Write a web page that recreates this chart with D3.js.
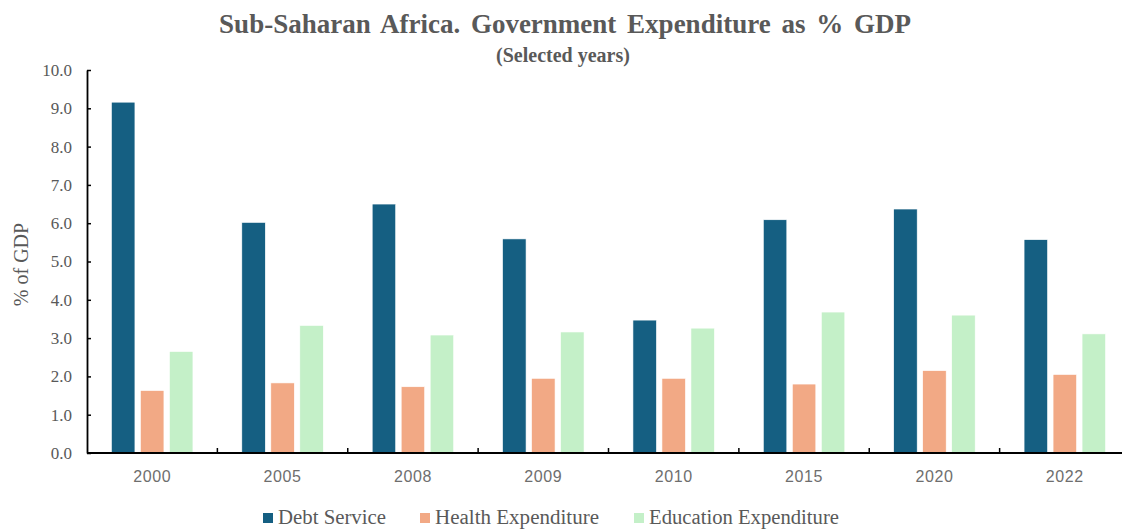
<!DOCTYPE html>
<html>
<head>
<meta charset="utf-8">
<script src="https://cdn.jsdelivr.net/npm/d3@7"></script>
<style>
  body { margin: 0; background: #fff; overflow: hidden; }
  svg text { fill: #595959; }
</style>
</head>
<body>
<div id="chart"></div>
<script>
const years = ["2000", "2005", "2008", "2009", "2010", "2015", "2020", "2022"];
const seriesNames = ["Debt Service", "Health Expenditure", "Education Expenditure"];
const debtService = [9.16, 6.02, 6.50, 5.59, 3.47, 6.09, 6.37, 5.57];
const healthExp = [1.63, 1.83, 1.73, 1.95, 1.95, 1.80, 2.15, 2.05];
const educationExp = [2.65, 3.33, 3.08, 3.16, 3.26, 3.68, 3.60, 3.11];
const yTicks = [0, 1, 2, 3, 4, 5, 6, 7, 8, 9, 10];
const colors = ["#155f82", "#f2a985", "#c4f0c8"];

const SERIF = "'Liberation Serif', 'Times New Roman', Tinos, 'DejaVu Serif', serif";
const SANS = "'Liberation Sans', Arial, Arimo, sans-serif";

const width = 1122, height = 529;
const margin = {top: 70, right: 10, bottom: 76, left: 87};
const plotRight = 1130; // plot area runs slightly past the picture's right edge

const svg = d3.select("#chart").append("svg")
    .attr("width", width)
    .attr("height", height);

const values = [debtService, healthExp, educationExp];
const rows = years.map((y, i) => ({
    year: y,
    vals: seriesNames.map((s, k) => ({key: s, k, value: values[k][i]}))
}));

const x0 = d3.scaleBand()
    .domain(years)
    .range([margin.left, plotRight])
    .paddingInner(0.375)
    .paddingOuter(0.1875);

const x1 = d3.scaleBand()
    .domain(seriesNames)
    .range([0, x0.bandwidth()])
    .paddingInner(0.19);

const y = d3.scaleLinear()
    .domain([0, 10])
    .range([height - margin.bottom, margin.top]);

// title
svg.append("text")
    .attr("x", 565).attr("y", 33)
    .attr("text-anchor", "middle")
    .attr("font-family", SERIF)
    .style("font-weight", "bold")
    .style("font-size", "27px")
    .style("word-spacing", "4px")
    .text("Sub-Saharan Africa. Government Expenditure as % GDP");
svg.append("text")
    .attr("x", 563).attr("y", 62)
    .attr("text-anchor", "middle")
    .attr("font-family", SERIF)
    .style("font-weight", "bold")
    .style("font-size", "20px")
    .text("(Selected years)");

// bars
const group = svg.append("g").selectAll("g")
    .data(rows)
    .join("g")
    .attr("transform", d => `translate(${x0(d.year)},0)`);

group.selectAll("rect")
    .data(d => d.vals)
    .join("rect")
    .attr("x", d => x1(d.key))
    .attr("width", x1.bandwidth())
    .attr("y", d => y(d.value))
    .attr("height", d => y(0) - y(d.value))
    .attr("fill", d => colors[d.k])
    .attr("stroke", "#fff")
    .attr("stroke-width", 0.6);

// y axis
const yAxis = svg.append("g")
    .attr("transform", `translate(${margin.left},0)`)
    .call(d3.axisLeft(y).tickValues(yTicks).tickFormat(d3.format(".1f")).tickSizeInner(-4).tickSizeOuter(0).tickPadding(15));
yAxis.attr("font-family", SERIF).attr("font-size", 17);
yAxis.select(".domain").attr("stroke", "#000").attr("stroke-width", 1.8);
yAxis.selectAll(".tick line").attr("stroke", "#000").attr("stroke-width", 1.5);
yAxis.selectAll(".tick text").attr("fill", "#595959");

// x axis
const step = x0.step();
const boundaries = d3.range(1, years.length + 1).map(i => margin.left + i * step);
const xg = svg.append("g");
xg.append("line")
    .attr("x1", margin.left).attr("x2", plotRight)
    .attr("y1", y(0)).attr("y2", y(0))
    .attr("stroke", "#000").attr("stroke-width", 1.8);
xg.selectAll("line.tk")
    .data(boundaries)
    .join("line")
    .attr("class", "tk")
    .attr("x1", d => d).attr("x2", d => d)
    .attr("y1", y(0)).attr("y2", y(0) - 5)
    .attr("stroke", "#000").attr("stroke-width", 1.5);
xg.selectAll("text")
    .data(years)
    .join("text")
    .attr("x", d => x0(d) + x0.bandwidth() / 2)
    .attr("y", y(0) + 29)
    .attr("text-anchor", "middle")
    .attr("font-family", SANS)
    .style("font-size", "16px")
    .style("letter-spacing", "0.6px")
    .style("fill", "#6e6e6e")
    .text(d => d);

// y axis label
svg.append("text")
    .attr("transform", `translate(28, ${(y(0) + y(10)) / 2 + 3}) rotate(-90)`)
    .attr("text-anchor", "middle")
    .attr("font-family", SERIF)
    .style("font-size", "20px")
    .text("% of GDP");

// legend
const legendX = [263, 420, 634];
const legendW = [108, 164, 190];
const legend = svg.append("g");
seriesNames.forEach((s, k) => {
    legend.append("rect")
        .attr("x", legendX[k]).attr("y", 513)
        .attr("width", 10).attr("height", 10)
        .attr("fill", colors[k]);
    legend.append("text")
        .attr("x", legendX[k] + 15).attr("y", 524)
        .attr("font-family", SERIF)
        .style("font-size", "20px")
        .attr("textLength", legendW[k])
        .attr("lengthAdjust", "spacingAndGlyphs")
        .text(s);
});
</script>
</body>
</html>
